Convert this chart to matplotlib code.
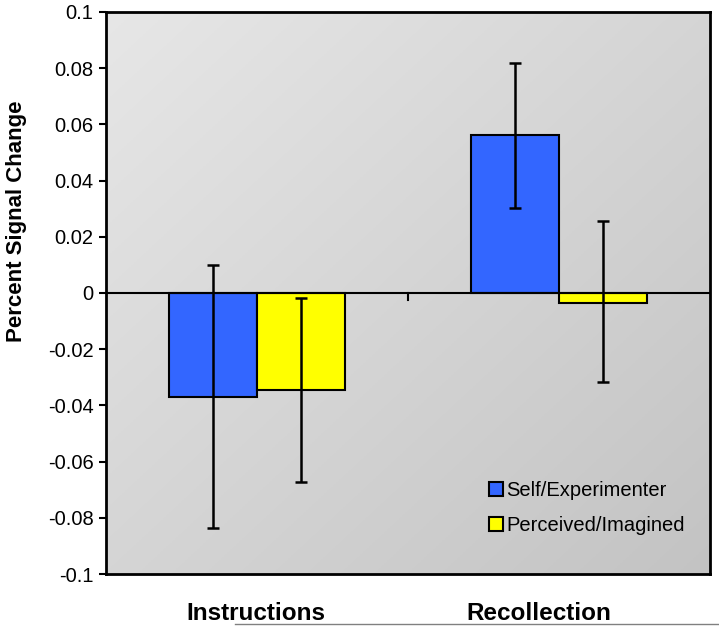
import matplotlib
matplotlib.use("Agg")
import matplotlib.pyplot as plt
import numpy as np
from matplotlib.lines import Line2D

categories = ["Instructions", "Recollection"]
series_names = ["Self/Experimenter", "Perceived/Imagined"]
self_vals = [-0.0370, 0.0562]
self_err_lo = [-0.0838, 0.0302]
self_err_hi = [0.0098, 0.0820]
perc_vals = [-0.0345, -0.0036]
perc_err_lo = [-0.0673, -0.0317]
perc_err_hi = [-0.0018, 0.0256]
yticks = [-0.1, -0.08, -0.06, -0.04, -0.02, 0, 0.02, 0.04, 0.06, 0.08, 0.1]
ytick_labels = ["-0.1", "-0.08", "-0.06", "-0.04", "-0.02", "0", "0.02", "0.04", "0.06", "0.08", "0.1"]

plt.rcParams['font.family'] = ['Liberation Sans', 'DejaVu Sans']

fig = plt.figure(figsize=(7.19, 6.27), dpi=100)
ax = fig.add_axes([0.1474, 0.0845, 0.8401, 0.8964])

# gradient background: light grey top-left -> darker grey bottom-right
gx, gy = np.meshgrid(np.linspace(0, 1, 200), np.linspace(0, 1, 200))
t = (gx + gy) / 2  # 0 at top-left (origin upper), 1 at bottom-right
shade = 0.905 - t * (0.905 - 0.765)
img = np.dstack([shade, shade, shade])
ax.imshow(img, extent=[0, 1, 0, 1], transform=ax.transAxes,
          aspect="auto", zorder=0, origin="upper")

x = np.arange(len(categories))
w = 0.29
colors = ["#3366FF", "#FFFF00"]

for off, vals, lo, hi, c in [(-w / 2, self_vals, self_err_lo, self_err_hi, colors[0]),
                             (w / 2, perc_vals, perc_err_lo, perc_err_hi, colors[1])]:
    vals = np.array(vals)
    yerr = [vals - np.array(lo), np.array(hi) - vals]
    ax.bar(x + off, vals, w, color=c, edgecolor="black", linewidth=1.5, zorder=2)
    ax.errorbar(x + off, vals, yerr=yerr, fmt="none", ecolor="black",
                elinewidth=1.8, capsize=4.5, capthick=1.8, zorder=3)

ax.set_xlim(-0.5, 1.5)
ax.set_ylim(-0.1, 0.1)
ax.axhline(0, color="black", linewidth=1.5, zorder=2.5)
# category separator tick on the zero line
ax.plot([0.5, 0.5], [0, -0.0025], color="black", linewidth=1.5, zorder=2.5)

ax.set_yticks(yticks)
ax.set_yticklabels(ytick_labels, fontsize=14.5)
ax.tick_params(axis="y", direction="out", length=5, width=1.5, pad=4)
ax.set_xticks([])
for s in ax.spines.values():
    s.set_linewidth(2)
    s.set_color("black")

label_shift = [-0.005, -0.066]
for xi, cat, dx in zip(x, categories, label_shift):
    ax.text(xi + dx, -0.110, cat, ha="center", va="top", fontsize=17.5,
            fontweight="bold", clip_on=False)

fig.text(0.0236, 0.6475, "Percent Signal Change", rotation=90, ha="center",
         va="center", fontsize=16, fontweight="bold")

handles = [Line2D([], [], marker="s", linestyle="none", markersize=9.5,
                  markerfacecolor=c, markeredgecolor="black", markeredgewidth=1.5)
           for c in colors]
ax.legend(handles, series_names, loc="upper left", bbox_to_anchor=(0.633, 0.1655),
          frameon=False, fontsize=14.5, handletextpad=0.1, labelspacing=0.8,
          handlelength=0.8, borderpad=0, borderaxespad=0)

fig.add_artist(Line2D([0.327, 1.0], [0.005, 0.005], color="gray", linewidth=1))

fig.savefig("out.png", dpi=100)
